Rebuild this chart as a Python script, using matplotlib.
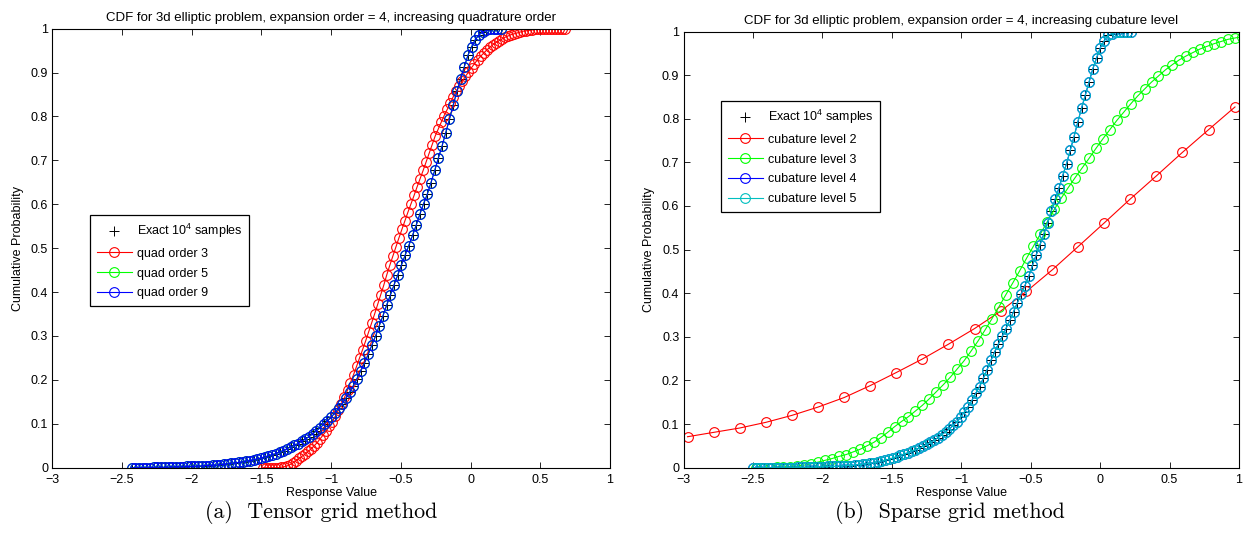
#!/usr/bin/env python3
"""
CDF comparison for the 3d elliptic problem: tensor grid vs sparse grid.
"""

import matplotlib
matplotlib.use('Agg')
import matplotlib.pyplot as plt
from matplotlib.ticker import MultipleLocator, FuncFormatter

plt.rcParams['font.family'] = 'Liberation Sans'
plt.rcParams['mathtext.default'] = 'regular'

# --- tensor grid, quadrature order 3 ---
tensor_x_q3 = [
    -1.490, -1.468, -1.447, -1.425, -1.403, -1.382, -1.360, -1.338, -1.316, -1.295,
    -1.273, -1.251, -1.230, -1.208, -1.186, -1.165, -1.143, -1.121, -1.100, -1.078,
    -1.056, -1.034, -1.013, -0.991, -0.969, -0.948, -0.926, -0.904, -0.882, -0.861,
    -0.839, -0.817, -0.796, -0.774, -0.752, -0.731, -0.709, -0.687, -0.666, -0.644,
    -0.622, -0.601, -0.579, -0.557, -0.536, -0.514, -0.492, -0.471, -0.449, -0.427,
    -0.405, -0.384, -0.362, -0.340, -0.319, -0.297, -0.275, -0.254, -0.232, -0.210,
    -0.189, -0.167, -0.145, -0.124, -0.102, -0.080, -0.059, -0.037, -0.015, 0.007,
    0.028, 0.050, 0.072, 0.094, 0.115, 0.137, 0.159, 0.181, 0.202, 0.224,
    0.246, 0.268, 0.289, 0.311, 0.333, 0.354, 0.376, 0.398, 0.419, 0.441,
    0.463, 0.484, 0.506, 0.528, 0.549, 0.571, 0.593, 0.615, 0.636, 0.658, 0.680]
tensor_cdf_q3 = [
    0.000, 0.000, 0.000, 0.000, 0.000, 0.000, 0.001, 0.002, 0.004, 0.007,
    0.011, 0.016, 0.021, 0.026, 0.031, 0.037, 0.043, 0.050, 0.057, 0.066,
    0.075, 0.084, 0.094, 0.105, 0.118, 0.131, 0.146, 0.160, 0.177, 0.194,
    0.212, 0.231, 0.250, 0.269, 0.289, 0.309, 0.330, 0.351, 0.372, 0.394,
    0.416, 0.439, 0.461, 0.482, 0.502, 0.523, 0.543, 0.562, 0.582, 0.601,
    0.620, 0.639, 0.658, 0.677, 0.696, 0.716, 0.736, 0.755, 0.771, 0.787,
    0.802, 0.816, 0.831, 0.845, 0.857, 0.869, 0.880, 0.891, 0.901, 0.911,
    0.920, 0.929, 0.937, 0.944, 0.951, 0.957, 0.963, 0.968, 0.972, 0.976,
    0.980, 0.983, 0.986, 0.988, 0.990, 0.992, 0.994, 0.995, 0.996, 0.997,
    0.998, 0.998, 0.999, 0.999, 1.000, 1.000, 1.000, 1.000, 1.000, 1.000, 1.000]

# --- tensor grid, quadrature order 9 (order 5 and the samples lie on it) ---
tensor_x_q9 = [
    -2.430, -2.404, -2.377, -2.351, -2.324, -2.298, -2.271, -2.245, -2.218, -2.192,
    -2.165, -2.139, -2.112, -2.086, -2.059, -2.033, -2.006, -1.980, -1.953, -1.927,
    -1.900, -1.874, -1.847, -1.821, -1.794, -1.768, -1.741, -1.715, -1.688, -1.662,
    -1.635, -1.609, -1.582, -1.556, -1.529, -1.503, -1.476, -1.450, -1.423, -1.397,
    -1.370, -1.344, -1.317, -1.291, -1.264, -1.238, -1.211, -1.185, -1.158, -1.132,
    -1.105, -1.079, -1.052, -1.026, -0.999, -0.973, -0.946, -0.920, -0.893, -0.867,
    -0.840, -0.814, -0.787, -0.761, -0.734, -0.708, -0.681, -0.655, -0.628, -0.602,
    -0.575, -0.549, -0.522, -0.496, -0.469, -0.443, -0.416, -0.390, -0.363, -0.337,
    -0.310, -0.284, -0.257, -0.231, -0.204, -0.178, -0.151, -0.125, -0.098, -0.072,
    -0.045, -0.019, 0.008, 0.034, 0.061, 0.087, 0.114, 0.140, 0.167, 0.193, 0.220]
tensor_cdf_q9 = [
    0.000, 0.000, 0.000, 0.000, 0.000, 0.000, 0.001, 0.001, 0.001, 0.001,
    0.001, 0.002, 0.002, 0.002, 0.002, 0.003, 0.003, 0.003, 0.004, 0.004,
    0.005, 0.005, 0.006, 0.006, 0.007, 0.008, 0.009, 0.010, 0.011, 0.012,
    0.013, 0.015, 0.016, 0.018, 0.020, 0.022, 0.024, 0.027, 0.030, 0.032,
    0.036, 0.039, 0.043, 0.047, 0.051, 0.055, 0.060, 0.065, 0.071, 0.077,
    0.084, 0.091, 0.099, 0.107, 0.115, 0.125, 0.135, 0.146, 0.159, 0.172,
    0.187, 0.203, 0.221, 0.238, 0.258, 0.279, 0.300, 0.323, 0.346, 0.370,
    0.393, 0.416, 0.439, 0.461, 0.484, 0.506, 0.529, 0.552, 0.578, 0.601,
    0.623, 0.649, 0.677, 0.705, 0.733, 0.763, 0.794, 0.825, 0.857, 0.885,
    0.913, 0.939, 0.959, 0.975, 0.986, 0.992, 0.996, 0.998, 0.999, 1.000, 1.000]
tensor_cdf_q5 = tensor_cdf_q9
tensor_cdf_exact = tensor_cdf_q9

# --- sparse grid, cubature level 2 ---
sparse_x_l2 = [-2.971, -2.783, -2.595, -2.407, -2.219, -2.031, -1.842, -1.657,
               -1.469, -1.281, -1.093, -0.904, -0.716, -0.531, -0.343, -0.158,
               0.029, 0.217, 0.405, 0.593, 0.781, 0.971]
sparse_cdf_l2 = [0.071, 0.081, 0.091, 0.104, 0.120, 0.139, 0.161, 0.188,
                 0.218, 0.249, 0.283, 0.319, 0.359, 0.404, 0.454, 0.507,
                 0.561, 0.616, 0.669, 0.723, 0.775, 0.827]

# --- sparse grid, cubature level 3 ---
sparse_x_l3 = [
    -2.48, -2.43, -2.38, -2.33, -2.28, -2.23, -2.18, -2.13, -2.08, -2.03,
    -1.98, -1.93, -1.88, -1.83, -1.78, -1.73, -1.68, -1.63, -1.58, -1.53,
    -1.48, -1.43, -1.38, -1.33, -1.28, -1.23, -1.18, -1.13, -1.08, -1.03,
    -0.98, -0.93, -0.88, -0.83, -0.78, -0.73, -0.68, -0.63, -0.58, -0.53,
    -0.48, -0.43, -0.38, -0.33, -0.28, -0.23, -0.18, -0.13, -0.08, -0.03,
    0.02, 0.07, 0.12, 0.17, 0.22, 0.27, 0.32, 0.37, 0.42, 0.47,
    0.52, 0.57, 0.62, 0.67, 0.72, 0.77, 0.82, 0.87, 0.92, 0.97, 1.02]
sparse_cdf_l3 = [
    0.000, 0.000, 0.000, 0.001, 0.001, 0.002, 0.004, 0.006, 0.009, 0.013,
    0.017, 0.021, 0.026, 0.030, 0.036, 0.042, 0.050, 0.058, 0.069, 0.081,
    0.094, 0.106, 0.117, 0.130, 0.143, 0.158, 0.174, 0.190, 0.207, 0.226,
    0.245, 0.267, 0.290, 0.315, 0.341, 0.368, 0.396, 0.423, 0.451, 0.480,
    0.508, 0.536, 0.564, 0.592, 0.618, 0.642, 0.665, 0.687, 0.709, 0.732,
    0.754, 0.775, 0.796, 0.815, 0.834, 0.852, 0.868, 0.884, 0.898, 0.912,
    0.924, 0.935, 0.944, 0.952, 0.960, 0.966, 0.972, 0.977, 0.982, 0.985, 0.988]

# --- sparse grid, cubature levels 4 and 5 (on top of the samples) ---
sparse_x_l45 = [
    -2.500, -2.473, -2.446, -2.418, -2.391, -2.364, -2.337, -2.310, -2.282, -2.255,
    -2.228, -2.201, -2.174, -2.146, -2.119, -2.092, -2.065, -2.038, -2.010, -1.983,
    -1.956, -1.929, -1.902, -1.874, -1.847, -1.820, -1.793, -1.766, -1.738, -1.711,
    -1.684, -1.657, -1.630, -1.602, -1.575, -1.548, -1.521, -1.494, -1.466, -1.439,
    -1.412, -1.385, -1.358, -1.330, -1.303, -1.276, -1.249, -1.222, -1.194, -1.167,
    -1.140, -1.113, -1.086, -1.058, -1.031, -1.004, -0.977, -0.950, -0.922, -0.895,
    -0.868, -0.841, -0.814, -0.786, -0.759, -0.732, -0.705, -0.678, -0.650, -0.623,
    -0.596, -0.569, -0.542, -0.514, -0.487, -0.460, -0.433, -0.406, -0.378, -0.351,
    -0.324, -0.297, -0.270, -0.242, -0.215, -0.188, -0.161, -0.134, -0.106, -0.079,
    -0.052, -0.025, 0.002, 0.030, 0.057, 0.084, 0.111, 0.138, 0.166, 0.193, 0.220]
sparse_cdf_l45 = [
    0.000, 0.000, 0.000, 0.000, 0.000, 0.000, 0.000, 0.000, 0.000, 0.000,
    0.000, 0.000, 0.001, 0.001, 0.001, 0.001, 0.001, 0.002, 0.002, 0.002,
    0.003, 0.003, 0.003, 0.004, 0.004, 0.005, 0.005, 0.006, 0.007, 0.008,
    0.009, 0.010, 0.011, 0.013, 0.015, 0.017, 0.019, 0.022, 0.025, 0.028,
    0.031, 0.034, 0.038, 0.041, 0.045, 0.049, 0.054, 0.058, 0.063, 0.069,
    0.076, 0.082, 0.089, 0.097, 0.105, 0.116, 0.128, 0.140, 0.155, 0.171,
    0.186, 0.205, 0.225, 0.246, 0.266, 0.284, 0.301, 0.319, 0.338, 0.358,
    0.378, 0.398, 0.417, 0.439, 0.464, 0.488, 0.511, 0.535, 0.561, 0.589,
    0.615, 0.641, 0.669, 0.697, 0.728, 0.759, 0.792, 0.824, 0.855, 0.885,
    0.915, 0.940, 0.963, 0.979, 0.991, 0.995, 0.998, 0.999, 1.000, 1.000, 1.000]
sparse_cdf_l4 = sparse_cdf_l45
sparse_cdf_l5 = sparse_cdf_l45
sparse_cdf_exact = sparse_cdf_l45

EXACT_LABEL = 'Exact 10$^4$ samples'
FIG_W, FIG_H = 1246, 541
FS = 9


def fmt_tick(v, _pos):
    s = f'{round(v, 6) + 0.0:g}'
    return s.replace('-', '\u2212')


def style_axes(ax, title):
    """MATLAB-ish look: inside ticks on all four sides, plain box"""
    ax.set_xlim(-3, 1)
    ax.set_ylim(0, 1)
    ax.xaxis.set_major_locator(MultipleLocator(0.5))
    ax.yaxis.set_major_locator(MultipleLocator(0.1))
    ax.xaxis.set_major_formatter(FuncFormatter(fmt_tick))
    ax.yaxis.set_major_formatter(FuncFormatter(fmt_tick))
    ax.tick_params(direction='in', top=True, right=True, length=4, width=0.6,
                   labelsize=FS)
    ax.tick_params(axis='x', pad=4.5)
    ax.tick_params(axis='y', pad=3)
    for sp in ax.spines.values():
        sp.set_linewidth(0.8)
    ax.set_title(title, fontsize=9.5, pad=5.5)
    ax.set_xlabel('Response Value', fontsize=FS, labelpad=0.5)
    ax.set_ylabel('Cumulative Probability', fontsize=FS, labelpad=5)


def plot_exact(ax, x, y):
    ax.plot(x, y, linestyle='none', marker='+', color='k', ms=6.5, mew=0.7,
            label=EXACT_LABEL)


def plot_curve(ax, x, y, color, label):
    ax.plot(x, y, '-o', color=color, lw=0.8, ms=7, mew=0.8, mfc='none',
            mec=color, label=label)


def add_legend(ax, fig, left_px, top_px):
    leg = ax.legend(loc='upper left',
                    bbox_to_anchor=(left_px / FIG_W, 1 - top_px / FIG_H),
                    bbox_transform=fig.transFigure, borderaxespad=0,
                    fontsize=FS, fancybox=False, framealpha=1, edgecolor='k',
                    handlelength=2.8, handletextpad=0.4, labelspacing=0.62,
                    borderpad=0.55)
    leg.get_frame().set_linewidth(0.9)


def main():
    fig = plt.figure(figsize=(FIG_W / 100, FIG_H / 100), dpi=100)
    ax1 = fig.add_axes([52.2 / FIG_W, 73.3 / FIG_H, 557.8 / FIG_W, 439.1 / FIG_H])
    ax2 = fig.add_axes([683.5 / FIG_W, 73.3 / FIG_H, 555.5 / FIG_W, 436.2 / FIG_H])

    # (a) tensor grid
    plot_exact(ax1, tensor_x_q9, tensor_cdf_exact)
    plot_curve(ax1, tensor_x_q3, tensor_cdf_q3, 'r', 'quad order 3')
    plot_curve(ax1, tensor_x_q9, tensor_cdf_q5, (0, 1, 0), 'quad order 5')
    plot_curve(ax1, tensor_x_q9, tensor_cdf_q9, 'b', 'quad order 9')
    style_axes(ax1, 'CDF for 3d elliptic problem, expansion order = 4, '
                    'increasing quadrature order')
    add_legend(ax1, fig, 90, 215)

    # (b) sparse grid
    plot_exact(ax2, sparse_x_l45, sparse_cdf_exact)
    plot_curve(ax2, sparse_x_l2, sparse_cdf_l2, 'r', 'cubature level 2')
    plot_curve(ax2, sparse_x_l3, sparse_cdf_l3, (0, 1, 0), 'cubature level 3')
    plot_curve(ax2, sparse_x_l45, sparse_cdf_l4, 'b', 'cubature level 4')
    plot_curve(ax2, sparse_x_l45, sparse_cdf_l5, 'c', 'cubature level 5')
    style_axes(ax2, 'CDF for 3d elliptic problem, expansion order = 4, '
                    'increasing cubature level')
    add_legend(ax2, fig, 721, 101)

    # sub-captions
    fig.text(321 / FIG_W, 1 - 513 / FIG_H, '(a)  Tensor grid method',
             ha='center', va='center', fontfamily='cmr10', fontsize=15.8)
    fig.text(950 / FIG_W, 1 - 513 / FIG_H, '(b)  Sparse grid method',
             ha='center', va='center', fontfamily='cmr10', fontsize=15.8)

    fig.savefig('out.png', dpi=100)
    plt.close(fig)


if __name__ == "__main__":
    main()
